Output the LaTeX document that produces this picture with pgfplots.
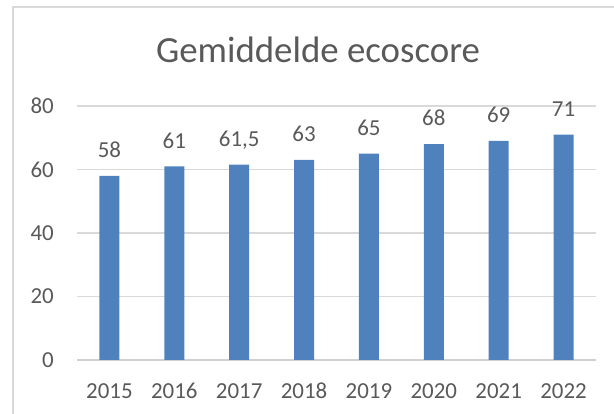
\documentclass[border=0pt]{standalone}
\usepackage{pgfplots}
\pgfplotsset{compat=1.18}
\usepackage{fontspec}
\setmainfont{Carlito}
\definecolor{barblue}{HTML}{4F81BD}
\definecolor{txtgray}{HTML}{595959}
\definecolor{gridgray}{HTML}{D9D9D9}
\definecolor{axgray}{HTML}{D0D0D0}
\begin{document}
\begin{tikzpicture}
\begin{axis}[
  at={(77bp,54bp)}, anchor=south west,
  scale only axis, width=519bp, height=254bp,
  xmin=-0.5, xmax=7.5, ymin=0, ymax=80,
  ytick={0,20,40,60,80},
  xtick={0,1,2,3,4,5,6,7},
  xticklabels={2015,2016,2017,2018,2019,2020,2021,2022},
  major tick length=0pt,
  axis lines*=left,
  x axis line style={-, draw=axgray, line width=1.2bp},
  y axis line style={draw=none},
  ymajorgrids, grid style={draw=gridgray, line width=1.1bp},
  /pgf/number format/assume math mode=true,
  /pgf/number format/use comma,
  tick label style={font=\fontsize{23}{27}\selectfont, text=txtgray},
  xticklabel style={inner sep=0pt, anchor=north, yshift=-23bp},
  yticklabel style={inner sep=0pt, anchor=east, xshift=-23bp},
  clip=false,
  nodes near coords,
  every node near coord/.append style={font=\fontsize{23}{27}\selectfont, text=txtgray, inner sep=0pt, text depth=0pt, anchor=south, yshift=18bp},
]
\addplot[ybar, bar width=20bp, fill=barblue, draw=none] coordinates {
(0,58) (1,61) (2,61.5) (3,63) (4,65) (5,68) (6,69) (7,71)
};
\end{axis}
\draw[gridgray, line width=1.2bp] (13bp,0bp) -- (13bp,407bp) -- (620bp,407bp);
\node[anchor=base, text=txtgray, font=\fontsize{37}{42}\selectfont, inner sep=0pt] at (318bp,351bp) {Gemiddelde ecoscore};
\pgfresetboundingbox
\useasboundingbox (0bp,0bp) rectangle (614bp,414bp);
\end{tikzpicture}
\end{document}
